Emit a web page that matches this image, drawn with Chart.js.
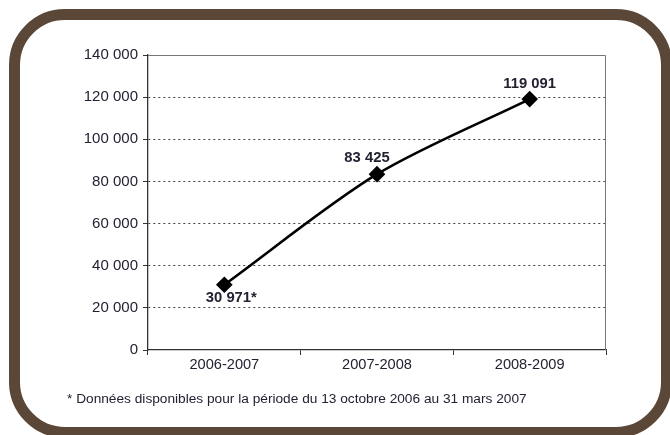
<!DOCTYPE html>
<html lang="fr">
<head>
  <meta charset="UTF-8">
  <title>Évolution 2006-2009</title>
  <script src="https://cdn.jsdelivr.net/npm/chart.js"></script>
  <style>
    html, body { margin: 0; padding: 0; background: #fff; }
    .wrap { position: relative; width: 670px; height: 435px; overflow: hidden; }
    #chart { position: absolute; left: 0; top: 0; }
    /* brown rounded frame */
    .frame {
      position: absolute; left: 9px; top: 9px; width: 663px; height: 429px;
      box-sizing: border-box; border: 11px solid #5a4737; border-radius: 56px;
      pointer-events: none;
    }
    .note {
      position: absolute; left: 67px; top: 391px;
      font-family: "Liberation Sans", Arial, sans-serif; font-size: 13.7px; color: #222233;
    }
  </style>
</head>
<body>
  <div class="wrap">
    <canvas id="chart" width="670" height="435"></canvas>
    <div class="frame"></div>
    <div class="note">* Données disponibles pour la période du 13 octobre 2006 au 31 mars 2007</div>
  </div>

  <script>
    // data
    const periods = ['2006-2007', '2007-2008', '2008-2009'];
    const totals = [30971, 83425, 119091];
    const noteMarks = ['*', '', ''];
    const yTicks = [0, 20000, 40000, 60000, 80000, 100000, 120000, 140000];

    const fmt = v => String(v).replace(/\B(?=(\d{3})+(?!\d))/g, ' ');
    const FONT = '"Liberation Sans", Arial, sans-serif';
    const INK = '#222233';

    // top and right edges of the plot box
    const plotBox = {
      id: 'plotBox',
      beforeDatasetsDraw(chart) {
        const a = chart.chartArea, ctx = chart.ctx;
        ctx.save();
        ctx.strokeStyle = '#777';
        ctx.lineWidth = 1;
        ctx.beginPath();
        ctx.moveTo(a.left, a.top + 0.5);
        ctx.lineTo(a.right - 0.5, a.top + 0.5);
        ctx.lineTo(a.right - 0.5, a.bottom);
        ctx.stroke();
        ctx.restore();
      }
    };

    // value labels next to the points
    const valueLabels = {
      id: 'valueLabels',
      afterDatasetsDraw(chart, args, opts) {
        const ctx = chart.ctx;
        const meta = chart.getDatasetMeta(0);
        ctx.save();
        ctx.font = 'bold 14.8px ' + FONT;
        ctx.fillStyle = INK;
        ctx.textAlign = 'center';
        ctx.textBaseline = 'middle';
        meta.data.forEach((pt, i) => {
          const off = opts.offsets[i];
          ctx.fillText(fmt(totals[i]) + noteMarks[i], pt.x + off[0], pt.y + off[1]);
        });
        ctx.restore();
      }
    };

    new Chart(document.getElementById('chart'), {
      type: 'line',
      data: {
        labels: periods,
        datasets: [{
          data: totals,
          borderColor: '#000',
          borderWidth: 2.6,
          tension: 0.3,
          pointStyle: 'rectRot',
          pointRadius: 6.5,
          pointBackgroundColor: '#000',
          pointBorderColor: '#000',
          clip: false
        }]
      },
      options: {
        responsive: false,
        animation: false,
        layout: { padding: { top: 55, right: 64, left: 0, bottom: 0 } },
        plugins: {
          legend: { display: false },
          tooltip: { enabled: false },
          valueLabels: { offsets: [[7, 13], [-10, -16], [0, -15]] }
        },
        scales: {
          x: {
            offset: true,
            afterFit: s => { s.height = 85; },
            grid: { offset: true, drawOnChartArea: false, tickLength: 5, tickColor: '#333' },
            border: { color: '#333', width: 1.3 },
            ticks: { color: INK, padding: 1, font: { family: FONT, size: 14.6 } }
          },
          y: {
            min: 0,
            max: 140000,
            afterFit: s => { s.width = 148; },
            afterBuildTicks: s => { s.ticks = yTicks.map(v => ({ value: v })); },
            grid: {
              color: c => (c.tick && (c.tick.value === 0 || c.tick.value === 140000)) ? 'rgba(0,0,0,0)' : '#444',
              tickLength: 5,
              tickColor: '#333'
            },
            border: { color: '#333', width: 1.3, dash: [2, 3] },
            ticks: { color: INK, padding: 5, font: { family: FONT, size: 15 }, callback: v => fmt(v) }
          }
        }
      },
      plugins: [plotBox, valueLabels]
    });
  </script>
</body>
</html>
